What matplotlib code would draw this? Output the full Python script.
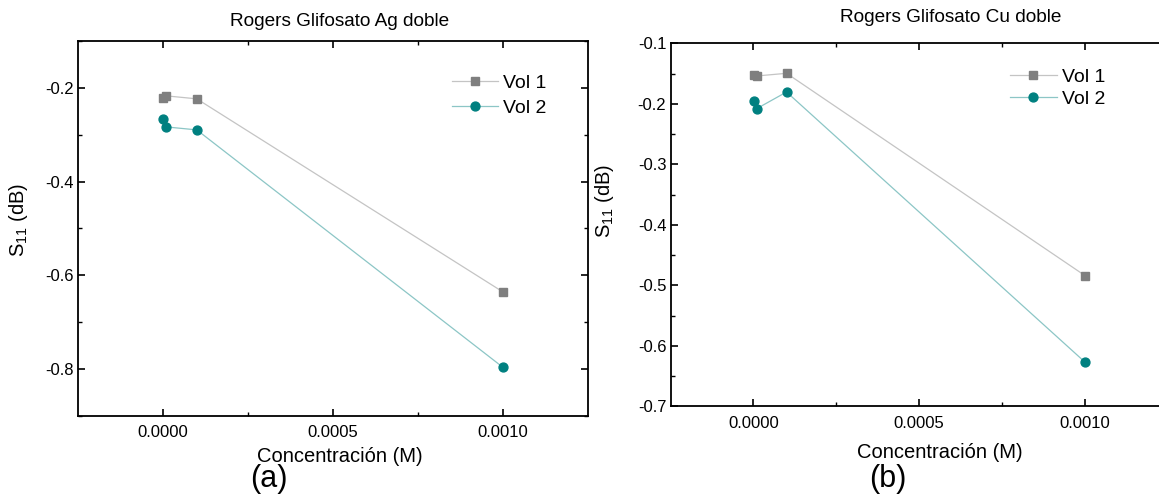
import matplotlib
matplotlib.use("Agg")
import matplotlib.pyplot as plt
from matplotlib.ticker import FixedLocator

plt.rcParams['font.family'] = ['Liberation Sans', 'DejaVu Sans']
plt.rcParams['mathtext.fontset'] = 'custom'
plt.rcParams['mathtext.rm'] = 'Liberation Sans'
plt.rcParams['mathtext.it'] = 'Liberation Sans:italic'

# ---- data ----
conc = [1e-6, 1e-5, 1e-4, 1e-3]
ag_vol1 = [-0.2214, -0.2171, -0.2235, -0.636]
ag_vol2 = [-0.2676, -0.2834, -0.2898, -0.797]
cu_vol1 = [-0.1524, -0.1540, -0.1496, -0.484]
cu_vol2 = [-0.1959, -0.2080, -0.1805, -0.627]
series_labels = ["Vol 1", "Vol 2"]
titles = ["Rogers Glifosato Ag doble", "Rogers Glifosato Cu doble"]
xlabel = "Concentración (M)"
ylabel = r"$\mathrm{S}_{\mathrm{11}}$ (dB)"
panel_tags = ["(a)", "(b)"]

W, H = 1159, 496
fig = plt.figure(figsize=(W / 100, H / 100), dpi=100)

def fx(px):
    return px / W

def fy(py):
    return 1 - py / H

axA = fig.add_axes([fx(77.7), fy(415.7), fx(588.2 - 77.7), (415.7 - 41.0) / H])
axB = fig.add_axes([fx(670.5), fy(406.3), fx(1167.9 - 670.5), (406.3 - 43.3) / H])

gray_m, gray_l = "#7f7f7f", "#c4c4c4"
teal_m, teal_l = "#008080", "#8cc6c6"

def draw(ax, v1, v2):
    ax.plot(conc, v1, color=gray_l, lw=0.9, marker="s", ms=5.4,
            mfc=gray_m, mec=gray_m, label=series_labels[0])
    ax.plot(conc, v2, color=teal_l, lw=0.9, marker="o", ms=6.4,
            mfc=teal_m, mec=teal_m, label=series_labels[1])
    ax.set_xlim(-0.00025, 0.00125)
    ax.xaxis.set_major_locator(FixedLocator([0.0, 0.0005, 0.001]))
    ax.xaxis.set_minor_locator(FixedLocator([0.00025, 0.00075]))
    ax.set_xticklabels(["0.0000", "0.0005", "0.0010"])
    for s in ax.spines.values():
        s.set_linewidth(1.3)
    ax.tick_params(which="major", direction="in", length=5, width=1.2,
                   top=True, right=True, labelsize=12)
    ax.tick_params(axis="x", which="major", pad=7)
    ax.tick_params(axis="y", which="major", pad=3)
    ax.tick_params(which="minor", direction="in", length=3, width=1.0,
                   top=True, right=True)

draw(axA, ag_vol1, ag_vol2)
axA.set_ylim(-0.9, -0.1)
axA.yaxis.set_major_locator(FixedLocator([-0.8, -0.6, -0.4, -0.2]))
axA.yaxis.set_minor_locator(FixedLocator([-0.9, -0.7, -0.5, -0.3, -0.1]))
axA.set_yticklabels(["-0.8", "-0.6", "-0.4", "-0.2"])

draw(axB, cu_vol1, cu_vol2)
axB.set_ylim(-0.7, -0.1)
yt = [-0.7, -0.6, -0.5, -0.4, -0.3, -0.2, -0.1]
axB.yaxis.set_major_locator(FixedLocator(yt))
axB.yaxis.set_minor_locator(FixedLocator([-0.65, -0.55, -0.45, -0.35, -0.25, -0.15]))
axB.set_yticklabels(["%.1f" % v for v in yt])

# legends
for ax, (lx, ly), sp in ((axA, (451.7, 74.0), 0.38), (axB, (1010.0, 68.5), 0.22)):
    ax.legend(loc="upper left", bbox_to_anchor=(fx(lx), fy(ly)),
              bbox_transform=fig.transFigure, frameon=False, fontsize=14,
              borderpad=0, borderaxespad=0, handlelength=2.4,
              handletextpad=0.25, labelspacing=sp)

# titles and labels
fig.text(fx(340), fy(21), titles[0], ha="center", va="center", fontsize=13.7)
fig.text(fx(951), fy(17), titles[1], ha="center", va="center", fontsize=13.7)
fig.text(fx(340), fy(456), xlabel, ha="center", va="center", fontsize=14.5)
fig.text(fx(940), fy(452), xlabel, ha="center", va="center", fontsize=14.5)
fig.text(fx(19), fy(220), ylabel, ha="center", va="center", rotation=90, fontsize=14.5)
fig.text(fx(605), fy(201), ylabel, ha="center", va="center", rotation=90, fontsize=14.5)
fig.text(fx(269), fy(479), panel_tags[0], ha="center", va="center", fontsize=22)
fig.text(fx(888), fy(479), panel_tags[1], ha="center", va="center", fontsize=22)

fig.savefig("out.png", dpi=100)
